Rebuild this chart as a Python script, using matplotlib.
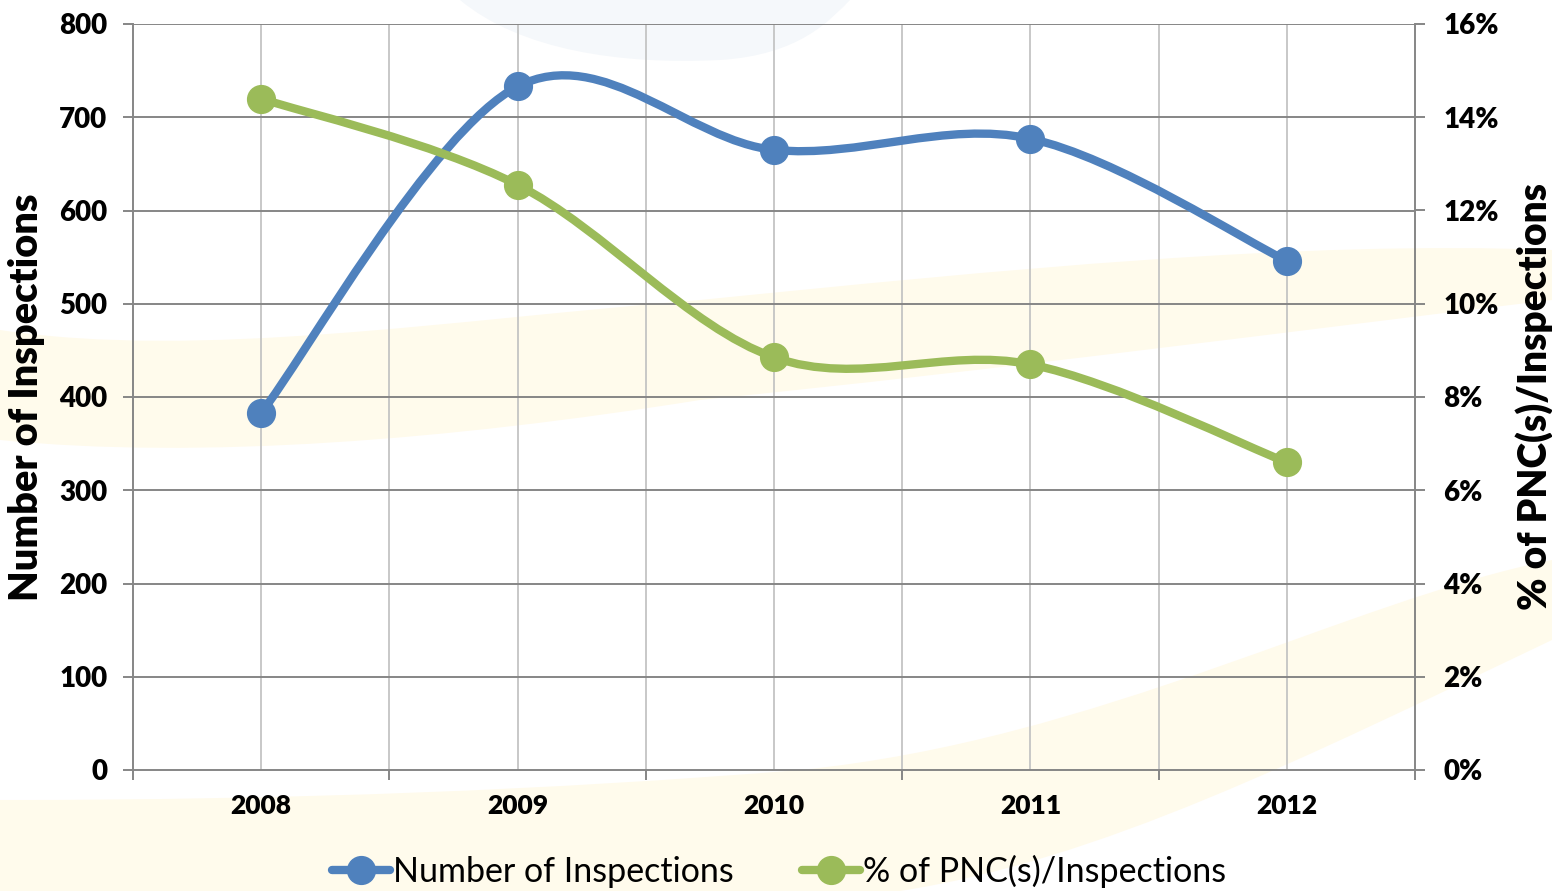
import matplotlib
matplotlib.use("Agg")
import matplotlib.pyplot as plt
from matplotlib.path import Path
from matplotlib.patches import PathPatch
from matplotlib.ticker import FuncFormatter, MultipleLocator
from matplotlib.lines import Line2D

# data
years = ["2008", "2009", "2010", "2011", "2012"]
inspections = [383, 733, 665, 677, 546]
pnc_pct = [14.4, 12.55, 8.85, 8.7, 6.6]

BLUE = "#4F81BD"
GREEN = "#9BBB59"
GRID_H = "#868686"
GRID_V = "#C4C4C4"
WASH_Y = "#FFFBEC"
WASH_B = "#F5F8FB"
FONT = ["Lato", "DejaVu Sans"]

plt.rcParams["font.family"] = FONT

W, H = 1552, 891


def smooth_path(xs, ys):
    # Excel-style smoothed line: cubic bezier through the points (catmull-rom tangents)
    n = len(xs)
    verts = [(xs[0], ys[0])]
    codes = [Path.MOVETO]
    for i in range(n - 1):
        p0 = (xs[max(i - 1, 0)], ys[max(i - 1, 0)])
        p1 = (xs[i], ys[i])
        p2 = (xs[i + 1], ys[i + 1])
        p3 = (xs[min(i + 2, n - 1)], ys[min(i + 2, n - 1)])
        c1 = (p1[0] + (p2[0] - p0[0]) / 6, p1[1] + (p2[1] - p0[1]) / 6)
        c2 = (p2[0] - (p3[0] - p1[0]) / 6, p2[1] - (p3[1] - p1[1]) / 6)
        verts += [c1, c2, p2]
        codes += [Path.CURVE4] * 3
    return Path(verts, codes)


def wash(fig, segs, color):
    # faint background swoosh; segs: start point then (kind, points) pieces,
    # pixel coords measured from the top-left corner
    verts = [segs[0]]
    codes = [Path.MOVETO]
    for kind, pts in segs[1:]:
        verts += pts
        codes += ([Path.CURVE4] * 3) if kind == "c" else [Path.LINETO]
    verts.append(segs[0])
    codes.append(Path.CLOSEPOLY)
    verts = [(px / W, 1 - py / H) for px, py in verts]
    fig.add_artist(PathPatch(Path(verts, codes), facecolor=color, edgecolor="none",
                             transform=fig.transFigure, zorder=-5))


fig = plt.figure(figsize=(W / 100, H / 100), dpi=100)

# background watermark
wash(fig, [(0, 330),
           ("c", [(200, 360), (450, 320), (700, 300)]),
           ("c", [(1000, 270), (1300, 240), (1552, 250)]),
           ("l", [(1552, 300)]),
           ("c", [(1300, 330), (1000, 370), (700, 400)]),
           ("c", [(450, 440), (200, 460), (0, 440)])], WASH_Y)
wash(fig, [(0, 800),
           ("c", [(300, 800), (550, 790), (800, 770)]),
           ("c", [(1100, 740), (1350, 600), (1552, 560)]),
           ("l", [(1552, 640)]),
           ("c", [(1300, 760), (1100, 860), (900, 891)]),
           ("l", [(0, 891)])], WASH_Y)
wash(fig, [(460, 0),
           ("c", [(520, 50), (620, 65), (720, 60)]),
           ("c", [(800, 55), (830, 20), (850, 0)])], WASH_B)

ax1 = fig.add_axes([133 / W, 1 - 770 / H, 1282 / W, 746 / H])
ax2 = ax1.twinx()
ax1.patch.set_visible(False)
ax2.patch.set_visible(False)

x = list(range(len(years)))

ax1.set_xlim(-0.5, len(years) - 0.5)
ax1.set_ylim(0, 800)
ax2.set_ylim(0, 16)

# grid
for gx in [i * 0.5 - 0.5 for i in range(1, 2 * len(years))]:
    ax1.axvline(gx, color=GRID_V, lw=1.3, zorder=0)
for gy in range(100, 900, 100):
    ax1.axhline(gy, color=GRID_H, lw=1.4, zorder=0.5)

ax1.add_patch(PathPatch(smooth_path(x, inspections), fill=False, edgecolor=BLUE,
                        lw=6, capstyle="round", joinstyle="round", zorder=3))
ax1.plot(x, inspections, "o", color=BLUE, ms=20, zorder=4)

ax2.add_patch(PathPatch(smooth_path(x, pnc_pct), fill=False, edgecolor=GREEN,
                        lw=6, capstyle="round", joinstyle="round", zorder=3))
ax2.plot(x, pnc_pct, "o", color=GREEN, ms=20, zorder=4)

# spines
for ax in (ax1, ax2):
    for s in ax.spines.values():
        s.set_visible(False)
for ax, side in ((ax1, "left"), (ax1, "bottom"), (ax2, "right")):
    ax.spines[side].set_visible(True)
    ax.spines[side].set_color(GRID_H)
    ax.spines[side].set_linewidth(1.4)

# ticks
ax1.yaxis.set_major_locator(MultipleLocator(100))
ax1.tick_params(axis="y", length=7.5, width=1.4, color=GRID_H, pad=11, labelsize=20)
ax2.yaxis.set_major_locator(MultipleLocator(2))
ax2.yaxis.set_major_formatter(FuncFormatter(lambda v, p: f"{v:.0f}%"))
ax2.tick_params(axis="y", length=7.5, width=1.4, color=GRID_H, pad=13, labelsize=20)
for lab in ax1.get_yticklabels() + ax2.get_yticklabels():
    lab.set_fontweight("heavy")

ax1.set_xticks(x)
ax1.set_xticklabels(years, fontsize=19, fontweight="heavy")
ax1.tick_params(axis="x", length=0, pad=17)
ax1.set_xticks([i + 0.5 for i in range(-1, len(years))], minor=True)
ax1.tick_params(axis="x", which="minor", length=7.5, width=1.4, color=GRID_H)

ax1.set_ylabel("Number of Inspections", fontsize=28.5, fontweight="heavy", labelpad=10)
ax2.set_ylabel("% of PNC(s)/Inspections", fontsize=28, fontweight="heavy",
               rotation=90, labelpad=12)

handles = [
    Line2D([], [], color=BLUE, lw=6, marker="o", ms=20, solid_capstyle="round"),
    Line2D([], [], color=GREEN, lw=6, marker="o", ms=20, solid_capstyle="round"),
]
fig.legend(handles, ["Number of Inspections", "% of PNC(s)/Inspections"],
           loc="center", bbox_to_anchor=(0.502, 1 - 871 / H), ncol=2, frameon=False,
           fontsize=24.5, handlelength=1.7, handletextpad=0.1, columnspacing=2.0)

fig.savefig("out.png", dpi=100)
